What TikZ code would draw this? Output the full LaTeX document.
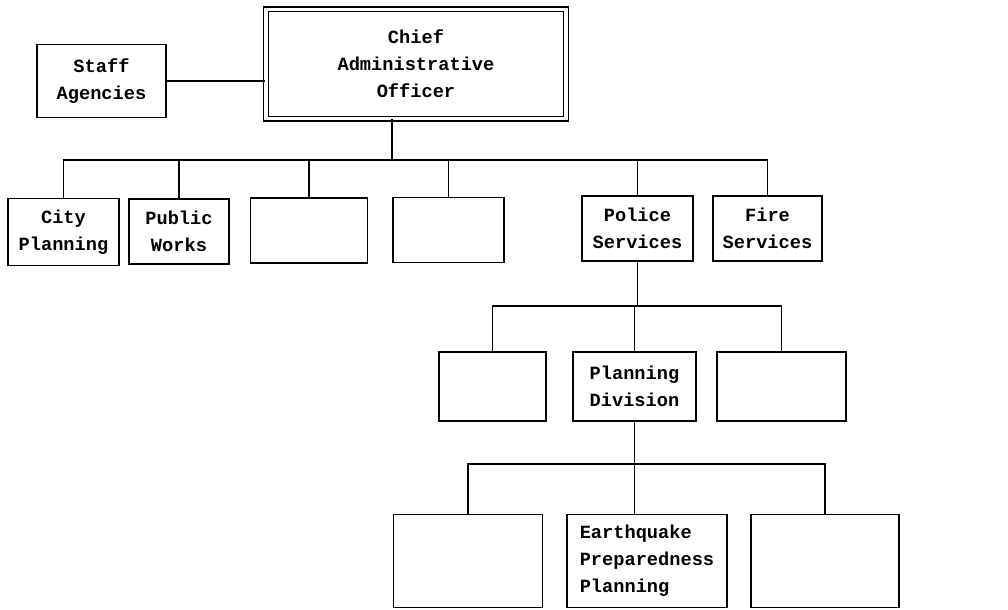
\documentclass[tikz,border=0pt]{standalone}
\usepackage{fontspec}
\setmonofont{Liberation Mono}
\begin{document}
\begin{tikzpicture}[
  x=0.75pt, y=-0.75pt,
  unit/.style={rectangle,draw,line width=1.2pt,inner sep=0pt,align=center,
    font=\ttfamily\bfseries\fontsize{14}{20.3}\selectfont},
  chief/.style={unit,double,double distance=2.4pt,line width=1.1pt},
  link/.style={line width=1.2pt},
  wide/.style={line width=1.6pt}
]
\useasboundingbox (0,0) rectangle (1008,610);
% Top: chief and staff
\node[chief, minimum width=225pt, minimum height=82pt] (cao) at (416,64) {Chief\\Administrative\\Officer};
\node[unit, minimum width=97pt, minimum height=55pt] (staff) at (101.5,81) {Staff\\Agencies};
\draw[wide] (staff.east) -- (staff.east -| cao.west);
% Departments
\node[unit, minimum width=83pt, minimum height=50pt] (city) at (63.5,232) {City\\Planning};
\node[unit, minimum width=75pt, minimum height=49pt] (public) at (179,231.5) {Public\\Works};
\node[unit, minimum width=88pt, minimum height=49pt] (blankA) at (309,230.5) {};
\node[unit, minimum width=83pt, minimum height=49pt] (blankB) at (448.5,230) {};
\node[unit, minimum width=83pt, minimum height=49pt] (police) at (637.5,228.5) {Police\\Services};
\node[unit, minimum width=82pt, minimum height=49pt] (fire) at (767.5,228.5) {Fire\\Services};
\coordinate (j0) at (392,160);
\draw[link] (j0 |- cao.south) -- (j0);
\foreach \n in {city,public,blankA,blankB,police,fire}
  \draw[link] (\n.north) |- (j0);
% Police divisions
\node[unit, minimum width=80pt, minimum height=52pt] (blankC) at (492.5,386.5) {};
\node[unit, minimum width=92pt, minimum height=52pt] (division) at (634.5,386.5) {Planning\\Division};
\node[unit, minimum width=97pt, minimum height=52pt] (blankD) at (781.5,386.5) {};
\coordinate (j1) at (police.south |- 0,306);
\draw[link] (police.south) -- (j1);
\foreach \n in {blankC,division,blankD}
  \draw[link] (\n.north) |- (j1);
% Planning sections
\node[unit, minimum width=112pt, minimum height=70pt] (blankE) at (468,561) {};
\node[unit, minimum width=120pt, minimum height=70pt, align=left] (epp) at (647,561) {Earthquake\\Preparedness\\Planning};
\node[unit, minimum width=111pt, minimum height=70pt] (blankF) at (825,561) {};
\coordinate (j2) at (division.south |- 0,464);
\draw[link] (division.south) -- (division.south |- epp.north);
\foreach \n in {blankE,blankF}
  \draw[link] (\n.north) |- (j2);
\end{tikzpicture}
\end{document}
